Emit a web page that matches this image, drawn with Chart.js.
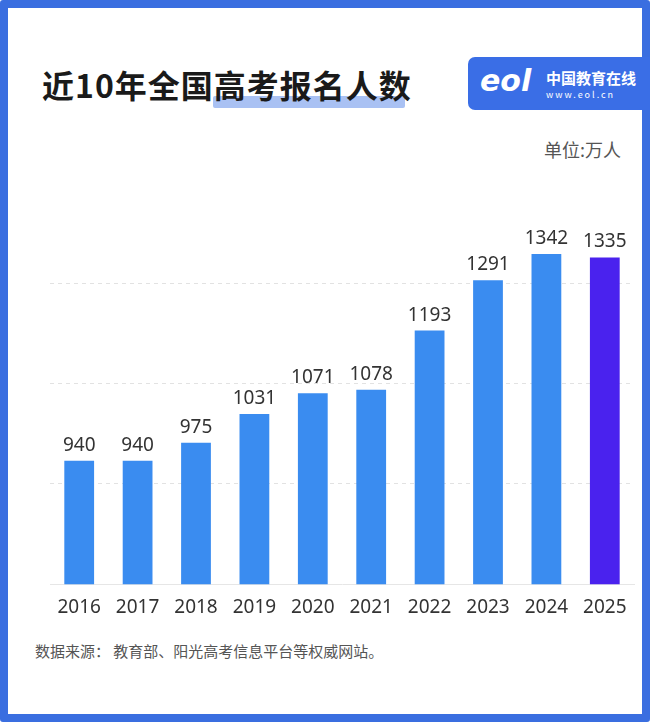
<!DOCTYPE html>
<html><head><meta charset="utf-8">
<script src="https://cdn.jsdelivr.net/npm/chart.js@4"></script>
<style>
body{margin:0;width:650px;height:727px;background:#fff;font-family:"Noto Sans CJK SC","Noto Sans",sans-serif;position:relative;overflow:hidden}
#frame{position:absolute;left:0;top:0;width:634px;height:706px;border:8px solid #3a6ee0;border-radius:3px}
#title{position:absolute;left:42px;top:61px;font-size:32px;font-weight:bold;color:#1a1a1a;letter-spacing:1px}
#hl{position:absolute;left:213px;top:96px;width:192px;height:12px;background:#a9c1f3;border-radius:2px}
#logo{position:absolute;left:468px;top:57px;width:182px;height:53px;background:#3a6ee6;border-radius:7px 0 0 7px;color:#fff}
#unit{position:absolute;left:544px;top:136px;font-size:18px;color:#555}
#src{position:absolute;left:35px;top:640px;font-size:15px;color:#555}
#wrap{position:absolute;left:40px;top:183px;width:604px;height:440px}
</style></head><body>
<div id="frame"></div>
<div id="hl"></div>
<div id="title">近10年全国高考报名人数</div>
<div id="logo"><span style="position:absolute;left:12px;top:6px;font-size:30px;font-style:italic;font-weight:bold;font-family:'DejaVu Sans'">eol</span><span style="position:absolute;left:78px;top:10px;font-size:15px;font-weight:bold">中国教育在线</span><span style="position:absolute;left:78px;top:31px;font-size:9px;letter-spacing:2px">www.eol.cn</span></div>
<div id="unit">单位:万人</div>
<div id="src">数据来源：&nbsp;教育部、阳光高考信息平台等权威网站。</div>
<div id="wrap"><canvas id="c"></canvas></div>
<script>
const years=["2016","2017","2018","2019","2020","2021","2022","2023","2024","2025"];
const applicants=[940,940,975,1031,1071,1078,1193,1291,1342,1335];
const barColors=years.map((y,i)=>i===years.length-1?"#4a22ee":"#3a8cf0");
const valueLabels={id:"vl",afterDatasetsDraw(ch){const ctx=ch.ctx;const m=ch.getDatasetMeta(0);ctx.save();ctx.font="19px 'Noto Sans','DejaVu Sans',sans-serif";ctx.fillStyle="#333";ctx.textAlign="center";ctx.textBaseline="bottom";m.data.forEach((b,i)=>ctx.fillText(applicants[i],b.x,b.y-6));ctx.restore();}};
new Chart(document.getElementById("c"),{type:"bar",
data:{labels:years,datasets:[{data:applicants,backgroundColor:barColors,barPercentage:0.51,categoryPercentage:1}]},
options:{responsive:true,maintainAspectRatio:false,animation:false,
layout:{padding:{left:10,right:10,top:0,bottom:0}},
plugins:{legend:{display:false},tooltip:{enabled:false}},
scales:{x:{grid:{display:false},border:{color:"#e6e6e6"},ticks:{color:"#333",font:{size:19,family:"'Noto Sans','DejaVu Sans',sans-serif"},padding:4}},
y:{min:700,max:1480,afterFit(s){s.width=0},ticks:{display:false,stepSize:195},border:{display:false,dash:[4,4]},grid:{color:c=>c.tick&&c.tick.value>=1480?"rgba(0,0,0,0)":"#e2e2e2",drawTicks:false}}}},
plugins:[valueLabels]});
</script></body></html>
